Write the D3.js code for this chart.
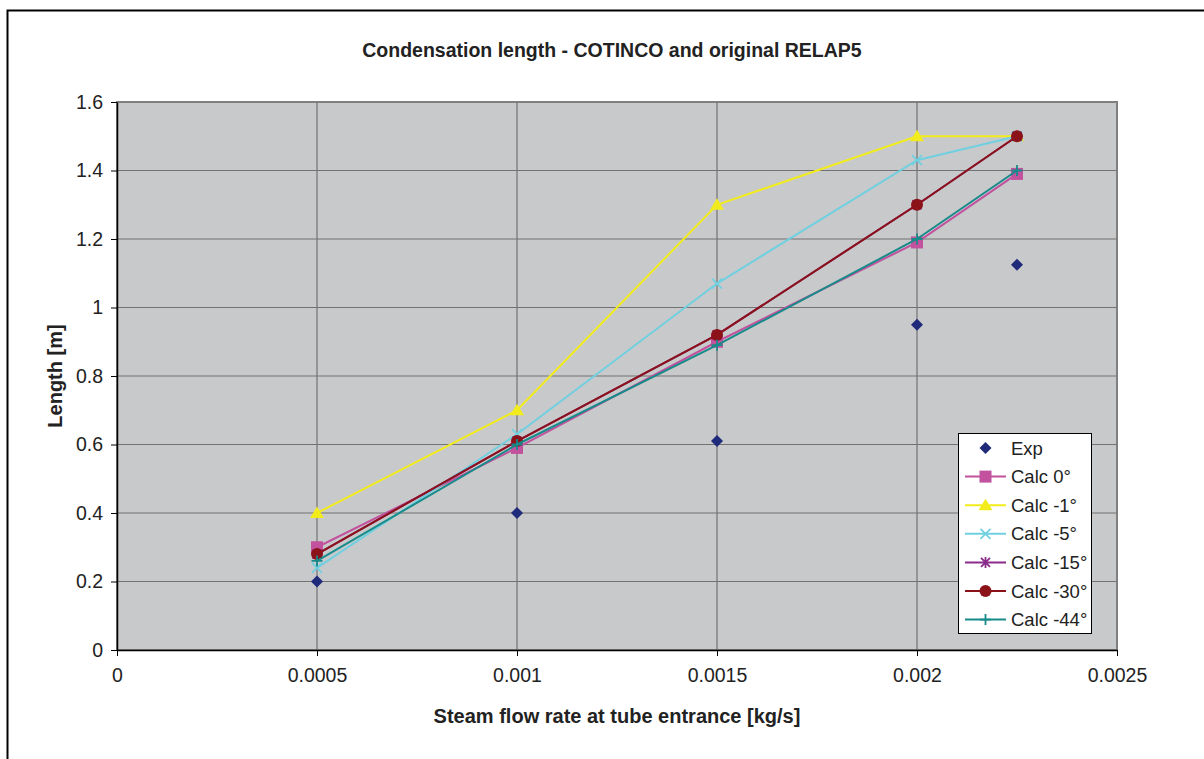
<!DOCTYPE html>
<html>
<head>
<meta charset="utf-8">
<script src="https://cdn.jsdelivr.net/npm/d3@7"></script>
<style>
  body { margin: 0; background: #fff; }
  svg { display: block; font-family: "Liberation Sans", Arial, sans-serif; }
</style>
</head>
<body>
<svg id="chart" width="1204" height="759"></svg>
<script>
// data
const flowRates = [0.0005, 0.001, 0.0015, 0.002, 0.00225];
const expValues = [0.2, 0.4, 0.61, 0.95, 1.125];
const calc0 = [0.30, 0.59, 0.90, 1.19, 1.39];
const calcM1 = [0.40, 0.70, 1.30, 1.50, 1.50];
const calcM5 = [0.24, 0.63, 1.07, 1.43, 1.50];
const calcM15 = [0.28, 0.61, 0.92, 1.30, 1.50];
const calcM30 = [0.28, 0.61, 0.92, 1.30, 1.50];
const calcM44 = [0.26, 0.60, 0.89, 1.20, 1.40];
const xTicks = [0, 0.0005, 0.001, 0.0015, 0.002, 0.0025];
const yTicks = [0, 0.2, 0.4, 0.6, 0.8, 1, 1.2, 1.4, 1.6];

const series = [
  { name: "Exp", values: expValues, color: "#1f2a7a", symbol: "diamond", line: false },
  { name: "Calc 0°", values: calc0, color: "#c2519e", symbol: "square", line: true },
  { name: "Calc -1°", values: calcM1, color: "#f2ec1c", symbol: "triangle", line: true },
  { name: "Calc -5°", values: calcM5, color: "#70d0e0", symbol: "cross", line: true },
  { name: "Calc -15°", values: calcM15, color: "#8a2a8a", symbol: "asterisk", line: true },
  { name: "Calc -30°", values: calcM30, color: "#8b1219", symbol: "circle", line: true },
  { name: "Calc -44°", values: calcM44, color: "#178a8a", symbol: "plus", line: true }
];

const svg = d3.select("#chart");
const plot = { left: 117, top: 102, right: 1117, bottom: 650 };

const x = d3.scaleLinear().domain([0, 0.0025]).range([plot.left, plot.right]);
const y = d3.scaleLinear().domain([0, 1.6]).range([plot.bottom, plot.top]);

// outer frame (only top and left visible in the picture)
svg.append("path")
  .attr("d", "M7.5,759 L7.5,10.5 L1204,10.5")
  .attr("fill", "none").attr("stroke", "#000").attr("stroke-width", 2);

svg.append("rect")
  .attr("x", plot.left).attr("y", plot.top)
  .attr("width", plot.right - plot.left).attr("height", plot.bottom - plot.top)
  .attr("fill", "#c8c9cb").attr("stroke", "#808080").attr("stroke-width", 2);

// grid
svg.append("g").selectAll("line").data(yTicks.slice(1, -1)).join("line")
  .attr("x1", plot.left).attr("x2", plot.right)
  .attr("y1", d => y(d)).attr("y2", d => y(d))
  .attr("stroke", "#727272").attr("stroke-width", 1.2);
svg.append("g").selectAll("line").data(xTicks.slice(1, -1)).join("line")
  .attr("y1", plot.top).attr("y2", plot.bottom)
  .attr("x1", d => x(d)).attr("x2", d => x(d))
  .attr("stroke", "#727272").attr("stroke-width", 1.2);

// axes
const xAxis = svg.append("g")
  .attr("transform", `translate(0,${plot.bottom})`)
  .call(d3.axisBottom(x).tickValues(xTicks).tickFormat(d => String(+d.toFixed(4))).tickSize(6).tickSizeOuter(0));
const yAxis = svg.append("g")
  .attr("transform", `translate(${plot.left},0)`)
  .call(d3.axisLeft(y).tickValues(yTicks).tickFormat(d => String(+d.toFixed(1))).tickSize(6).tickSizeOuter(0));
[xAxis, yAxis].forEach(a => {
  a.select(".domain").attr("stroke", "#000").attr("stroke-width", 1.5);
  a.selectAll(".tick line").attr("stroke", "#000");
  a.selectAll(".tick text").attr("font-size", 19.5).attr("fill", "#222")
    .attr("font-family", "Liberation Sans, Arial, sans-serif");
});
xAxis.selectAll(".tick text").attr("y", 18).attr("dy", "0.71em");
yAxis.selectAll(".tick text").attr("x", -14);

// titles
svg.append("text").attr("x", 612).attr("y", 57).attr("text-anchor", "middle")
  .attr("font-size", 19.5).attr("font-weight", "bold").attr("fill", "#222")
  .text("Condensation length - COTINCO and original RELAP5");
svg.append("text").attr("x", 617).attr("y", 723).attr("text-anchor", "middle")
  .attr("font-size", 20).attr("font-weight", "bold").attr("fill", "#222")
  .text("Steam flow rate at tube entrance [kg/s]");
svg.append("text").attr("transform", `translate(62,${(plot.top + plot.bottom) / 2}) rotate(-90)`)
  .attr("text-anchor", "middle")
  .attr("font-size", 20).attr("font-weight", "bold").attr("fill", "#222")
  .text("Length [m]");

function drawSymbol(g, s, cx, cy) {
  const c = s.color;
  if (s.symbol === "diamond") {
    g.append("path").attr("d", `M${cx},${cy - 6}L${cx + 6},${cy}L${cx},${cy + 6}L${cx - 6},${cy}Z`).attr("fill", c);
  } else if (s.symbol === "square") {
    g.append("rect").attr("x", cx - 6).attr("y", cy - 6).attr("width", 12).attr("height", 12).attr("fill", c);
  } else if (s.symbol === "triangle") {
    g.append("path").attr("d", `M${cx},${cy - 6.5}L${cx + 7},${cy + 5}L${cx - 7},${cy + 5}Z`).attr("fill", c);
  } else if (s.symbol === "circle") {
    g.append("circle").attr("cx", cx).attr("cy", cy).attr("r", 6).attr("fill", c);
  } else if (s.symbol === "cross") {
    g.append("path").attr("d", `M${cx - 5},${cy - 5}L${cx + 5},${cy + 5}M${cx - 5},${cy + 5}L${cx + 5},${cy - 5}`)
      .attr("stroke", c).attr("stroke-width", 1.8);
  } else if (s.symbol === "plus") {
    g.append("path").attr("d", `M${cx - 5.5},${cy}L${cx + 5.5},${cy}M${cx},${cy - 5.5}L${cx},${cy + 5.5}`)
      .attr("stroke", c).attr("stroke-width", 1.8);
  } else if (s.symbol === "asterisk") {
    g.append("path").attr("d", `M${cx - 4.5},${cy - 4.5}L${cx + 4.5},${cy + 4.5}M${cx - 4.5},${cy + 4.5}L${cx + 4.5},${cy - 4.5}M${cx},${cy - 5.5}L${cx},${cy + 5.5}`)
      .attr("stroke", c).attr("stroke-width", 1.8);
  }
}

const line = d3.line().x(d => x(d[0])).y(d => y(d[1]));
series.forEach(s => {
  const g = svg.append("g");
  const pts = flowRates.map((f, i) => [f, s.values[i]]);
  if (s.line) {
    g.append("path").attr("d", line(pts)).attr("fill", "none")
      .attr("stroke", s.color).attr("stroke-width", 2);
  }
  pts.forEach(p => drawSymbol(g, s, x(p[0]), y(p[1])));
});

// legend
const legend = svg.append("g");
legend.append("rect").attr("x", 958.5).attr("y", 433.5).attr("width", 133).attr("height", 200)
  .attr("fill", "#fff").attr("stroke", "#000").attr("stroke-width", 1);
series.forEach((s, i) => {
  const cy = 448 + i * 28.6;
  if (s.line) {
    legend.append("line").attr("x1", 965).attr("x2", 1006).attr("y1", cy).attr("y2", cy)
      .attr("stroke", s.color).attr("stroke-width", 2);
  }
  drawSymbol(legend, s, 985.5, cy);
  legend.append("text").attr("x", 1011).attr("y", cy + 6.5).attr("font-size", 18.5).attr("fill", "#222").text(s.name);
});
</script>
</body>
</html>
